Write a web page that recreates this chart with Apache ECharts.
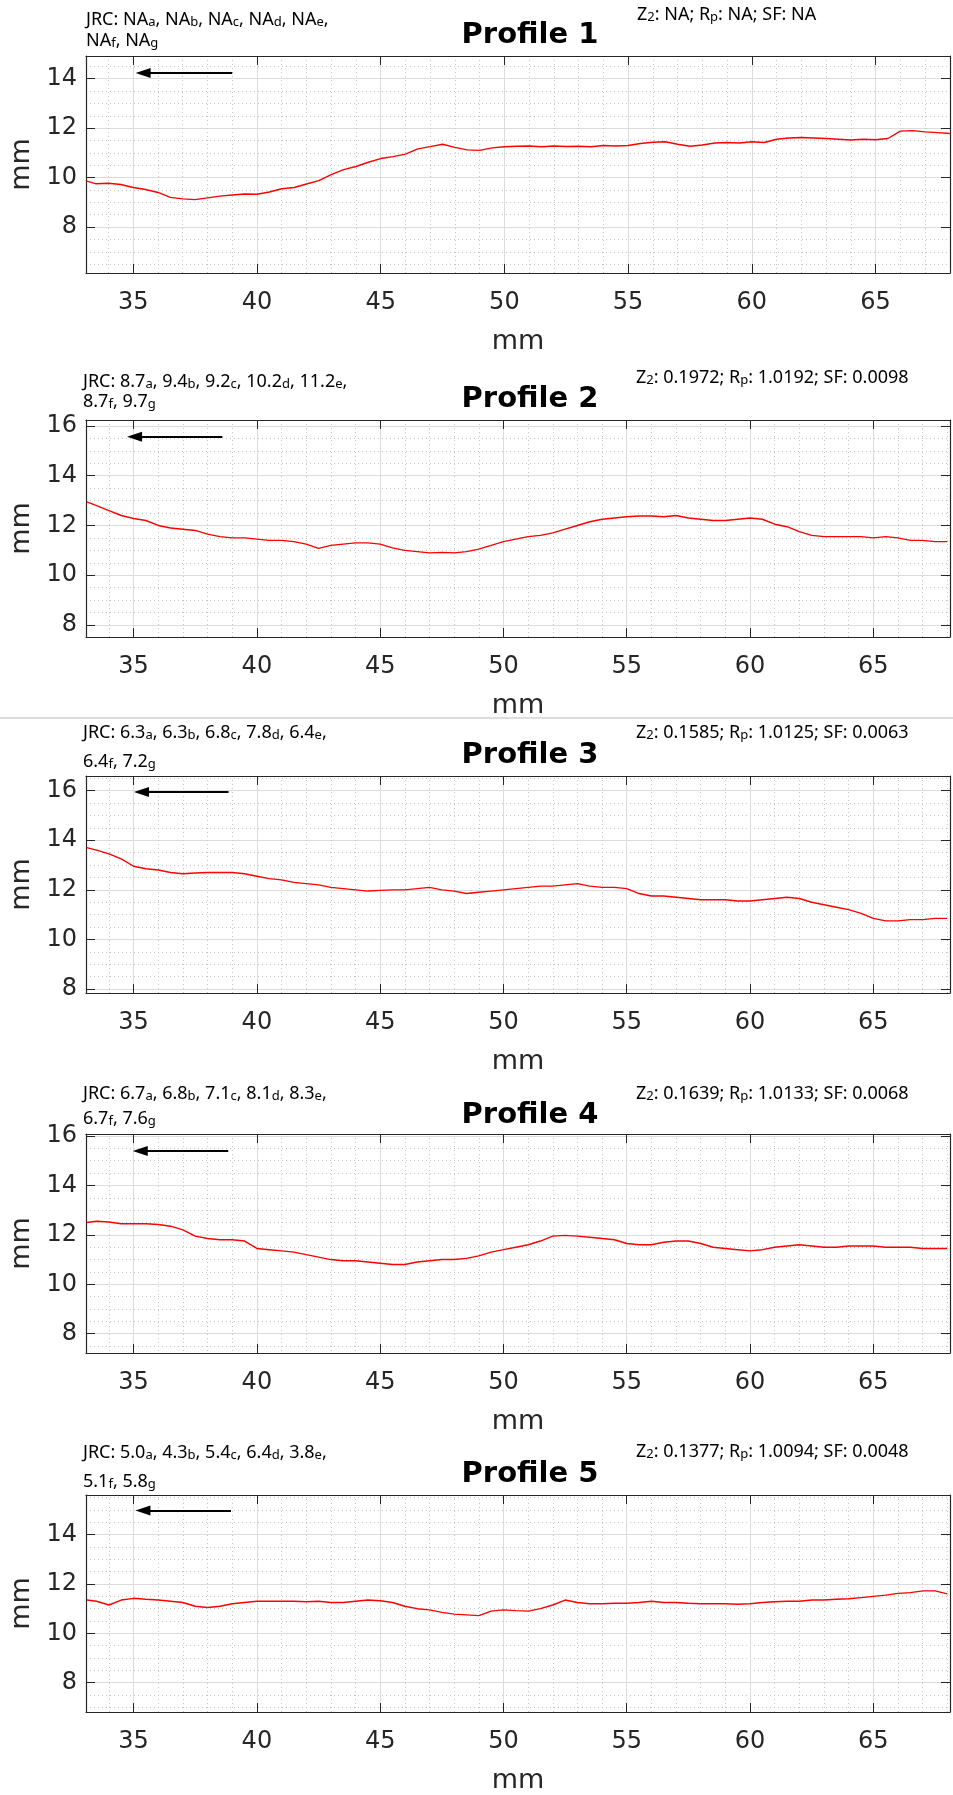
<!DOCTYPE html>
<html>
<head>
<meta charset="utf-8">
<script src="https://cdn.jsdelivr.net/npm/echarts@6/dist/echarts.min.js"></script>
<style>
  html, body { margin: 0; padding: 0; background: #fff; }
  #profiles { width: 953px; height: 1795px; }
</style>
</head>
<body>
<div id="profiles"></div>
<script>
// sample positions along the profile (mm)
const xPos = [
  33.1, 33.5, 34, 34.5, 35, 35.5, 36, 36.5, 37, 37.5,
  38, 38.5, 39, 39.5, 40, 40.5, 41, 41.5, 42, 42.5,
  43, 43.5, 44, 44.5, 45, 45.5, 46, 46.5, 47, 47.5,
  48, 48.5, 49, 49.5, 50, 50.5, 51, 51.5, 52, 52.5,
  53, 53.5, 54, 54.5, 55, 55.5, 56, 56.5, 57, 57.5,
  58, 58.5, 59, 59.5, 60, 60.5, 61, 61.5, 62, 62.5,
  63, 63.5, 64, 64.5, 65, 65.5, 66, 66.5, 67, 67.5,
  68,
]

// profile heights (mm)
const profile1 = [
  9.87, 9.75, 9.77, 9.72, 9.6, 9.52, 9.4, 9.2, 9.14, 9.11,
  9.18, 9.25, 9.3, 9.34, 9.33, 9.42, 9.55, 9.6, 9.74, 9.88,
  10.12, 10.32, 10.45, 10.62, 10.77, 10.85, 10.95, 11.16, 11.25, 11.35,
  11.22, 11.12, 11.1, 11.2, 11.25, 11.27, 11.28, 11.25, 11.28, 11.26,
  11.27, 11.25, 11.3, 11.28, 11.3, 11.38, 11.43, 11.45, 11.35, 11.27,
  11.32, 11.4, 11.42, 11.4, 11.45, 11.42, 11.55, 11.6, 11.62, 11.6,
  11.58, 11.55, 11.52, 11.55, 11.53, 11.58, 11.88, 11.9, 11.85, 11.82,
  11.78,
]
const profile2 = [
  12.95, 12.8, 12.6, 12.4, 12.28, 12.2, 12.0, 11.9, 11.85, 11.8,
  11.65, 11.55, 11.5, 11.5, 11.45, 11.4, 11.4, 11.35, 11.25, 11.08,
  11.2, 11.25, 11.3, 11.3, 11.25, 11.1, 11.0, 10.95, 10.9, 10.92,
  10.9, 10.95, 11.05, 11.2, 11.35, 11.45, 11.55, 11.6, 11.7, 11.85,
  12.0, 12.15, 12.25, 12.3, 12.35, 12.38, 12.38, 12.35, 12.4, 12.3,
  12.25, 12.2, 12.2, 12.25, 12.3, 12.25, 12.05, 11.95, 11.75, 11.6,
  11.55, 11.55, 11.55, 11.55, 11.5, 11.55, 11.5, 11.4, 11.4, 11.35,
  11.35,
]
const profile3 = [
  13.7, 13.6, 13.45, 13.25, 12.95, 12.85, 12.8, 12.7, 12.65, 12.68,
  12.7, 12.7, 12.7, 12.65, 12.55, 12.45, 12.4, 12.3, 12.25, 12.2,
  12.1, 12.05, 12.0, 11.95, 11.98, 12.0, 12.0, 12.05, 12.1, 12.0,
  11.95, 11.85, 11.9, 11.95, 12.0, 12.05, 12.1, 12.15, 12.15, 12.2,
  12.25, 12.15, 12.1, 12.1, 12.05, 11.85, 11.75, 11.75, 11.7, 11.65,
  11.6, 11.6, 11.6, 11.55, 11.55, 11.6, 11.65, 11.7, 11.65, 11.5,
  11.4, 11.3, 11.2, 11.05, 10.85, 10.75, 10.75, 10.8, 10.8, 10.85,
  10.85,
]
const profile4 = [
  12.5, 12.55, 12.52, 12.45, 12.45, 12.45, 12.42, 12.35, 12.2, 11.95,
  11.85, 11.8, 11.8, 11.75, 11.45, 11.4, 11.35, 11.3, 11.2, 11.1,
  11.0, 10.95, 10.95, 10.9, 10.85, 10.8, 10.8, 10.9, 10.95, 11.0,
  11.0, 11.05, 11.15, 11.3, 11.4, 11.5, 11.6, 11.75, 11.95, 11.98,
  11.95, 11.9, 11.85, 11.8, 11.65, 11.6, 11.6, 11.7, 11.75, 11.75,
  11.65, 11.5, 11.45, 11.4, 11.35, 11.4, 11.5, 11.55, 11.6, 11.55,
  11.5, 11.5, 11.55, 11.55, 11.55, 11.5, 11.5, 11.5, 11.45, 11.45,
  11.45,
]
const profile5 = [
  11.35, 11.3, 11.15, 11.35, 11.42, 11.38, 11.35, 11.3, 11.25, 11.1,
  11.05, 11.1, 11.2, 11.25, 11.3, 11.3, 11.3, 11.3, 11.28, 11.3,
  11.25, 11.25, 11.3, 11.35, 11.32, 11.25, 11.1, 11.0, 10.95, 10.85,
  10.78, 10.75, 10.72, 10.9, 10.95, 10.92, 10.9, 11.0, 11.15, 11.35,
  11.25, 11.2, 11.2, 11.22, 11.22, 11.25, 11.3, 11.25, 11.25, 11.22,
  11.2, 11.2, 11.2, 11.18, 11.2, 11.25, 11.28, 11.3, 11.3, 11.35,
  11.35, 11.38, 11.4, 11.45, 11.5, 11.55, 11.62, 11.65, 11.72, 11.72,
  11.6,
]
const profiles = [profile1, profile2, profile3, profile4, profile5]

const profileNames = ['Profile 1', 'Profile 2', 'Profile 3', 'Profile 4', 'Profile 5']
const jrcLetters = ['a', 'b', 'c', 'd', 'e', 'f', 'g']
const jrcValues = [
  ['NA', 'NA', 'NA', 'NA', 'NA', 'NA', 'NA'],
  ['8.7', '9.4', '9.2', '10.2', '11.2', '8.7', '9.7'],
  ['6.3', '6.3', '6.8', '7.8', '6.4', '6.4', '7.2'],
  ['6.7', '6.8', '7.1', '8.1', '8.3', '6.7', '7.6'],
  ['5.0', '4.3', '5.4', '6.4', '3.8', '5.1', '5.8'],
]
const z2Values = ['NA', '0.1972', '0.1585', '0.1639', '0.1377']
const rpValues = ['NA', '1.0192', '1.0125', '1.0133', '1.0094']
const sfValues = ['NA', '0.0098', '0.0063', '0.0068', '0.0048']

// direction arrows (head, tail) in data units
const arrowHead = [[35.4, 14.23], [35.04, 15.57], [35.32, 15.94], [35.27, 15.39], [35.38, 14.98]]
const arrowTail = [[39.0, 14.23], [38.6, 15.57], [38.85, 15.94], [38.84, 15.39], [38.95, 14.98]]

// axis limits (axis equal, so every panel is ~35 mm wide)
const xLimits = [[33.09, 68.01], [33.07, 68.11], [33.07, 68.11], [33.07, 68.11], [33.07, 68.11]]
const yLimits = [[6.145, 14.915], [7.516, 16.24], [7.84, 16.59], [7.22, 16.08], [6.81, 15.61]]

// page layout of each panel (px)
const layout = [
  { left: 86, top: 56, width: 866, height: 217, title: 35, jrc1: 20, jrc2: 41, stat: 15, statX: 637 },
  { left: 83, top: 420, width: 869, height: 217, title: 399, jrc1: 382, jrc2: 402, stat: 378, statX: 636 },
  { left: 83, top: 776, width: 869, height: 217, title: 755, jrc1: 733, jrc2: 762, stat: 733, statX: 636 },
  { left: 83, top: 1134, width: 869, height: 219, title: 1115, jrc1: 1094, jrc2: 1119, stat: 1094, statX: 636 },
  { left: 83, top: 1495, width: 869, height: 217, title: 1474, jrc1: 1453, jrc2: 1482, stat: 1452, statX: 636 },
]

const axisColor = '#262626'
const tickFont = 'DejaVu Sans'
const noteFont = 'Noto Sans'

const isMultiple = (v, step) => Math.abs(v / step - Math.round(v / step)) < 1e-6

const subRich = {
  s: { fontSize: 13, fontFamily: noteFont, fill: '#000', verticalAlign: 'bottom' },
}

const grids = []
const xAxes = []
const yAxes = []
const series = []
const graphics = []

profiles.forEach((values, i) => {
  const lay = layout[i]
  grids.push({ left: lay.left, top: lay.top, width: lay.width, height: lay.height, show: false })

  const lineStyle = { color: axisColor, width: 1.2 }
  const tick = { show: true, inside: true, length: 9, lineStyle: { color: axisColor, width: 1 } }

  xAxes.push({
    type: 'value',
    gridIndex: i,
    position: 'bottom',
    min: xLimits[i][0],
    max: xLimits[i][1],
    splitNumber: 7,
    name: 'mm',
    nameLocation: 'middle',
    nameGap: 55,
    nameTextStyle: { fontFamily: tickFont, fontSize: 27, color: axisColor },
    axisLine: { show: true, onZero: false, lineStyle },
    axisTick: tick,
    axisLabel: {
      fontFamily: tickFont,
      fontSize: 24,
      color: axisColor,
      margin: 18,
      formatter: (v) => (isMultiple(v, 5) ? String(Math.round(v)) : ''),
    },
    splitLine: { show: true, lineStyle: { color: '#dcdcdc', width: 1 } },
    minorTick: { show: false, splitNumber: 5 },
    minorSplitLine: { show: true, lineStyle: { color: '#c4c4c4', width: 1, type: [1, 3] } },
  })
  xAxes.push({
    type: 'value',
    gridIndex: i,
    position: 'top',
    min: xLimits[i][0],
    max: xLimits[i][1],
    splitNumber: 7,
    axisLine: { show: true, onZero: false, lineStyle },
    axisTick: tick,
    axisLabel: { show: false },
    splitLine: { show: false },
  })

  yAxes.push({
    type: 'value',
    gridIndex: i,
    position: 'left',
    min: yLimits[i][0],
    max: yLimits[i][1],
    splitNumber: 4,
    name: 'mm',
    nameLocation: 'middle',
    nameGap: 51,
    nameTextStyle: { fontFamily: tickFont, fontSize: 27, color: axisColor },
    axisLine: { show: true, onZero: false, lineStyle },
    axisTick: tick,
    axisLabel: {
      fontFamily: tickFont,
      fontSize: 24,
      color: axisColor,
      margin: 9,
      formatter: (v) => (isMultiple(v, 2) ? String(Math.round(v)) : ''),
    },
    splitLine: { show: true, lineStyle: { color: '#dcdcdc', width: 1 } },
    minorTick: { show: false, splitNumber: 4 },
    minorSplitLine: { show: true, lineStyle: { color: '#c4c4c4', width: 1, type: [1, 3] } },
  })
  yAxes.push({
    type: 'value',
    gridIndex: i,
    position: 'right',
    min: yLimits[i][0],
    max: yLimits[i][1],
    splitNumber: 4,
    axisLine: { show: true, onZero: false, lineStyle },
    axisTick: tick,
    axisLabel: { show: false },
    splitLine: { show: false },
  })

  series.push({
    name: profileNames[i],
    type: 'line',
    xAxisIndex: i * 2,
    yAxisIndex: i * 2,
    showSymbol: false,
    symbol: 'none',
    lineStyle: { color: '#ff0000', width: 1.4 },
    data: xPos.map((x, k) => [x, values[k]]),
    markLine: {
      silent: true,
      animation: false,
      symbol: ['triangle', 'none'],
      symbolSize: [10, 15],
      label: { show: false },
      lineStyle: { color: '#000', width: 2, type: 'solid' },
      itemStyle: { color: '#000' },
      emphasis: { disabled: true },
      data: [[{ coord: arrowHead[i] }, { coord: arrowTail[i] }]],
    },
  })

  // JRC lines and stats above the panel
  const jrc = jrcValues[i].map((v, k) => `${v}{s|${jrcLetters[k]}}`)
  const noteStyle = {
    fontSize: 18,
    fontFamily: noteFont,
    fill: '#000',
    verticalAlign: 'middle',
    textVerticalAlign: 'middle',
    rich: subRich,
  }
  graphics.push({
    type: 'text',
    x: lay.left,
    y: lay.jrc1,
    style: Object.assign({ text: `JRC: ${jrc.slice(0, 5).join(', ')},` }, noteStyle),
  })
  graphics.push({
    type: 'text',
    x: lay.left,
    y: lay.jrc2,
    style: Object.assign({ text: jrc.slice(5).join(', ') }, noteStyle),
  })
  graphics.push({
    type: 'text',
    x: lay.statX,
    y: lay.stat,
    style: Object.assign({ text: `Z{s|2}: ${z2Values[i]}; R{s|p}: ${rpValues[i]}; SF: ${sfValues[i]}` }, noteStyle),
  })
  graphics.push({
    type: 'text',
    x: 530,
    y: lay.title,
    style: {
      text: profileNames[i],
      font: `bold 29px "${tickFont}"`,
      fill: '#000',
      align: 'center',
      textAlign: 'center',
      verticalAlign: 'middle',
      textVerticalAlign: 'middle',
    },
  })
})

// thin seam between the stacked figures
graphics.push({
  type: 'line',
  shape: { x1: 0, y1: 718, x2: 953, y2: 718 },
  style: { stroke: '#dddddd', lineWidth: 2 },
})

const chart = echarts.init(document.getElementById('profiles'))
chart.setOption({
  animation: false,
  backgroundColor: '#ffffff',
  grid: grids,
  xAxis: xAxes,
  yAxis: yAxes,
  series,
  graphic: { elements: graphics },
})
</script>
</body>
</html>
